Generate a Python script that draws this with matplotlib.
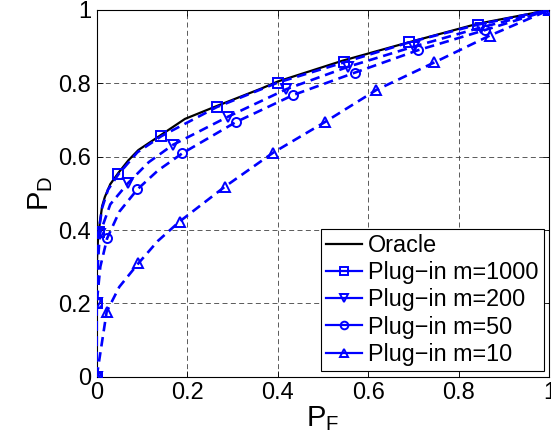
import matplotlib.pyplot as plt
from matplotlib.lines import Line2D

plt.rcParams['font.family'] = ['Liberation Sans', 'DejaVu Sans']
plt.rcParams['mathtext.fontset'] = 'custom'
plt.rcParams['mathtext.rm'] = 'Liberation Sans'

ticks = [0, 0.2, 0.4, 0.6, 0.8, 1]
tick_labels = ['0', '0.2', '0.4', '0.6', '0.8', '1']

# oracle ROC curve
oracle_pf = [0, 0, 0.003, 0.007, 0.012, 0.018, 0.03, 0.048, 0.07, 0.092, 0.143,
             0.195, 0.265, 0.364, 0.40, 0.544, 0.669, 0.84, 1]
oracle_pd = [0, 0.3, 0.38, 0.42, 0.465, 0.49, 0.525, 0.556, 0.59, 0.618, 0.66,
             0.703, 0.738, 0.786, 0.805, 0.862, 0.905, 0.962, 1]

# plug-in curves: marker points
m1000_pf = [0, 0, 0.004, 0.048, 0.143, 0.265, 0.40, 0.546, 0.691, 0.842, 1]
m1000_pd = [0, 0.2, 0.395, 0.552, 0.656, 0.735, 0.802, 0.857, 0.912, 0.96, 1]
m200_pf = [0, 0, 0.007, 0.07, 0.168, 0.29, 0.419, 0.555, 0.70, 0.848, 1]
m200_pd = [0, 0.2, 0.39, 0.529, 0.632, 0.709, 0.784, 0.845, 0.90, 0.952, 1]
m50_pf = [0, 0, 0.023, 0.09, 0.189, 0.307, 0.434, 0.57, 0.709, 0.857, 1]
m50_pd = [0, 0.2, 0.377, 0.511, 0.609, 0.694, 0.768, 0.829, 0.89, 0.945, 1]
m10_pf = [0, 0.022, 0.092, 0.183, 0.283, 0.39, 0.505, 0.618, 0.746, 0.868, 1]
m10_pd = [0, 0.177, 0.309, 0.423, 0.518, 0.611, 0.695, 0.782, 0.857, 0.93, 1]

# extra points on the curves between markers
m1000_extra_pf = [0.012, 0.025, 0.09]
m1000_extra_pd = [0.46, 0.51, 0.612]
m200_extra_pf = [0.002, 0.03, 0.115]
m200_extra_pd = [0.3, 0.47, 0.585]
m50_extra_pf = [0.008, 0.05, 0.135]
m50_extra_pd = [0.3, 0.45, 0.562]
m10_extra_pf = [0.05, 0.135]
m10_extra_pd = [0.245, 0.37]

labels = ['Oracle', 'Plug\u2212in m=1000', 'Plug\u2212in m=200',
          'Plug\u2212in m=50', 'Plug\u2212in m=10']


def curve(px, py, ex, ey):
    pts = sorted(zip(list(px) + list(ex), list(py) + list(ey)), key=lambda p: (p[1], p[0]))
    return [p[0] for p in pts], [p[1] for p in pts]


fig = plt.figure(figsize=(5.51, 4.44), dpi=100)
ax = fig.add_axes([0.1755, 0.1516, 0.8215, 0.8259])

ax.plot(oracle_pf, oracle_pd, color='black', lw=1.6, zorder=3)

series = [
    (m1000_pf, m1000_pd, m1000_extra_pf, m1000_extra_pd, 's'),
    (m200_pf, m200_pd, m200_extra_pf, m200_extra_pd, 'v'),
    (m50_pf, m50_pd, m50_extra_pf, m50_extra_pd, 'o'),
    (m10_pf, m10_pd, m10_extra_pf, m10_extra_pd, '^'),
]
handles = [Line2D([], [], color='black', lw=1.6)]
for px, py, ex, ey, mk in series:
    cx, cy = curve(px, py, ex, ey)
    ax.plot(cx, cy, color='blue', lw=1.9, linestyle=(0, (3.6, 2.2)), zorder=4)
    ax.plot(px, py, linestyle='none', marker=mk, ms=6.5, mfc='none',
            mec='blue', mew=1.4, zorder=5)
    handles.append(Line2D([], [], color='blue', lw=1.6, marker=mk, ms=5.5,
                          mfc='none', mec='blue', mew=1.4))

ax.set_xlim(0, 1)
ax.set_ylim(0, 1)
ax.set_xticks(ticks)
ax.set_xticklabels(tick_labels)
ax.set_yticks(ticks)
ax.set_yticklabels(tick_labels)
ax.tick_params(direction='in', length=4, width=0.6, top=True, right=True,
               labelsize=17, pad=4)
ax.grid(True, color='0.25', linestyle=(0, (6, 4)), linewidth=0.6)
for s in ax.spines.values():
    s.set_linewidth(0.8)

ax.set_xlabel(r'$\mathregular{P_F}$', fontsize=21, labelpad=0)
ax.set_ylabel(r'$\mathregular{P_D}$', fontsize=21, labelpad=2)

leg = ax.legend(handles, labels, loc='lower right', fontsize=16.8, frameon=True,
                fancybox=False, edgecolor='black', framealpha=1,
                handlelength=1.55, handletextpad=0.25, borderpad=0.22,
                labelspacing=0.18, borderaxespad=0.25)
leg.get_frame().set_linewidth(0.8)

fig.savefig('out.png', dpi=100)
